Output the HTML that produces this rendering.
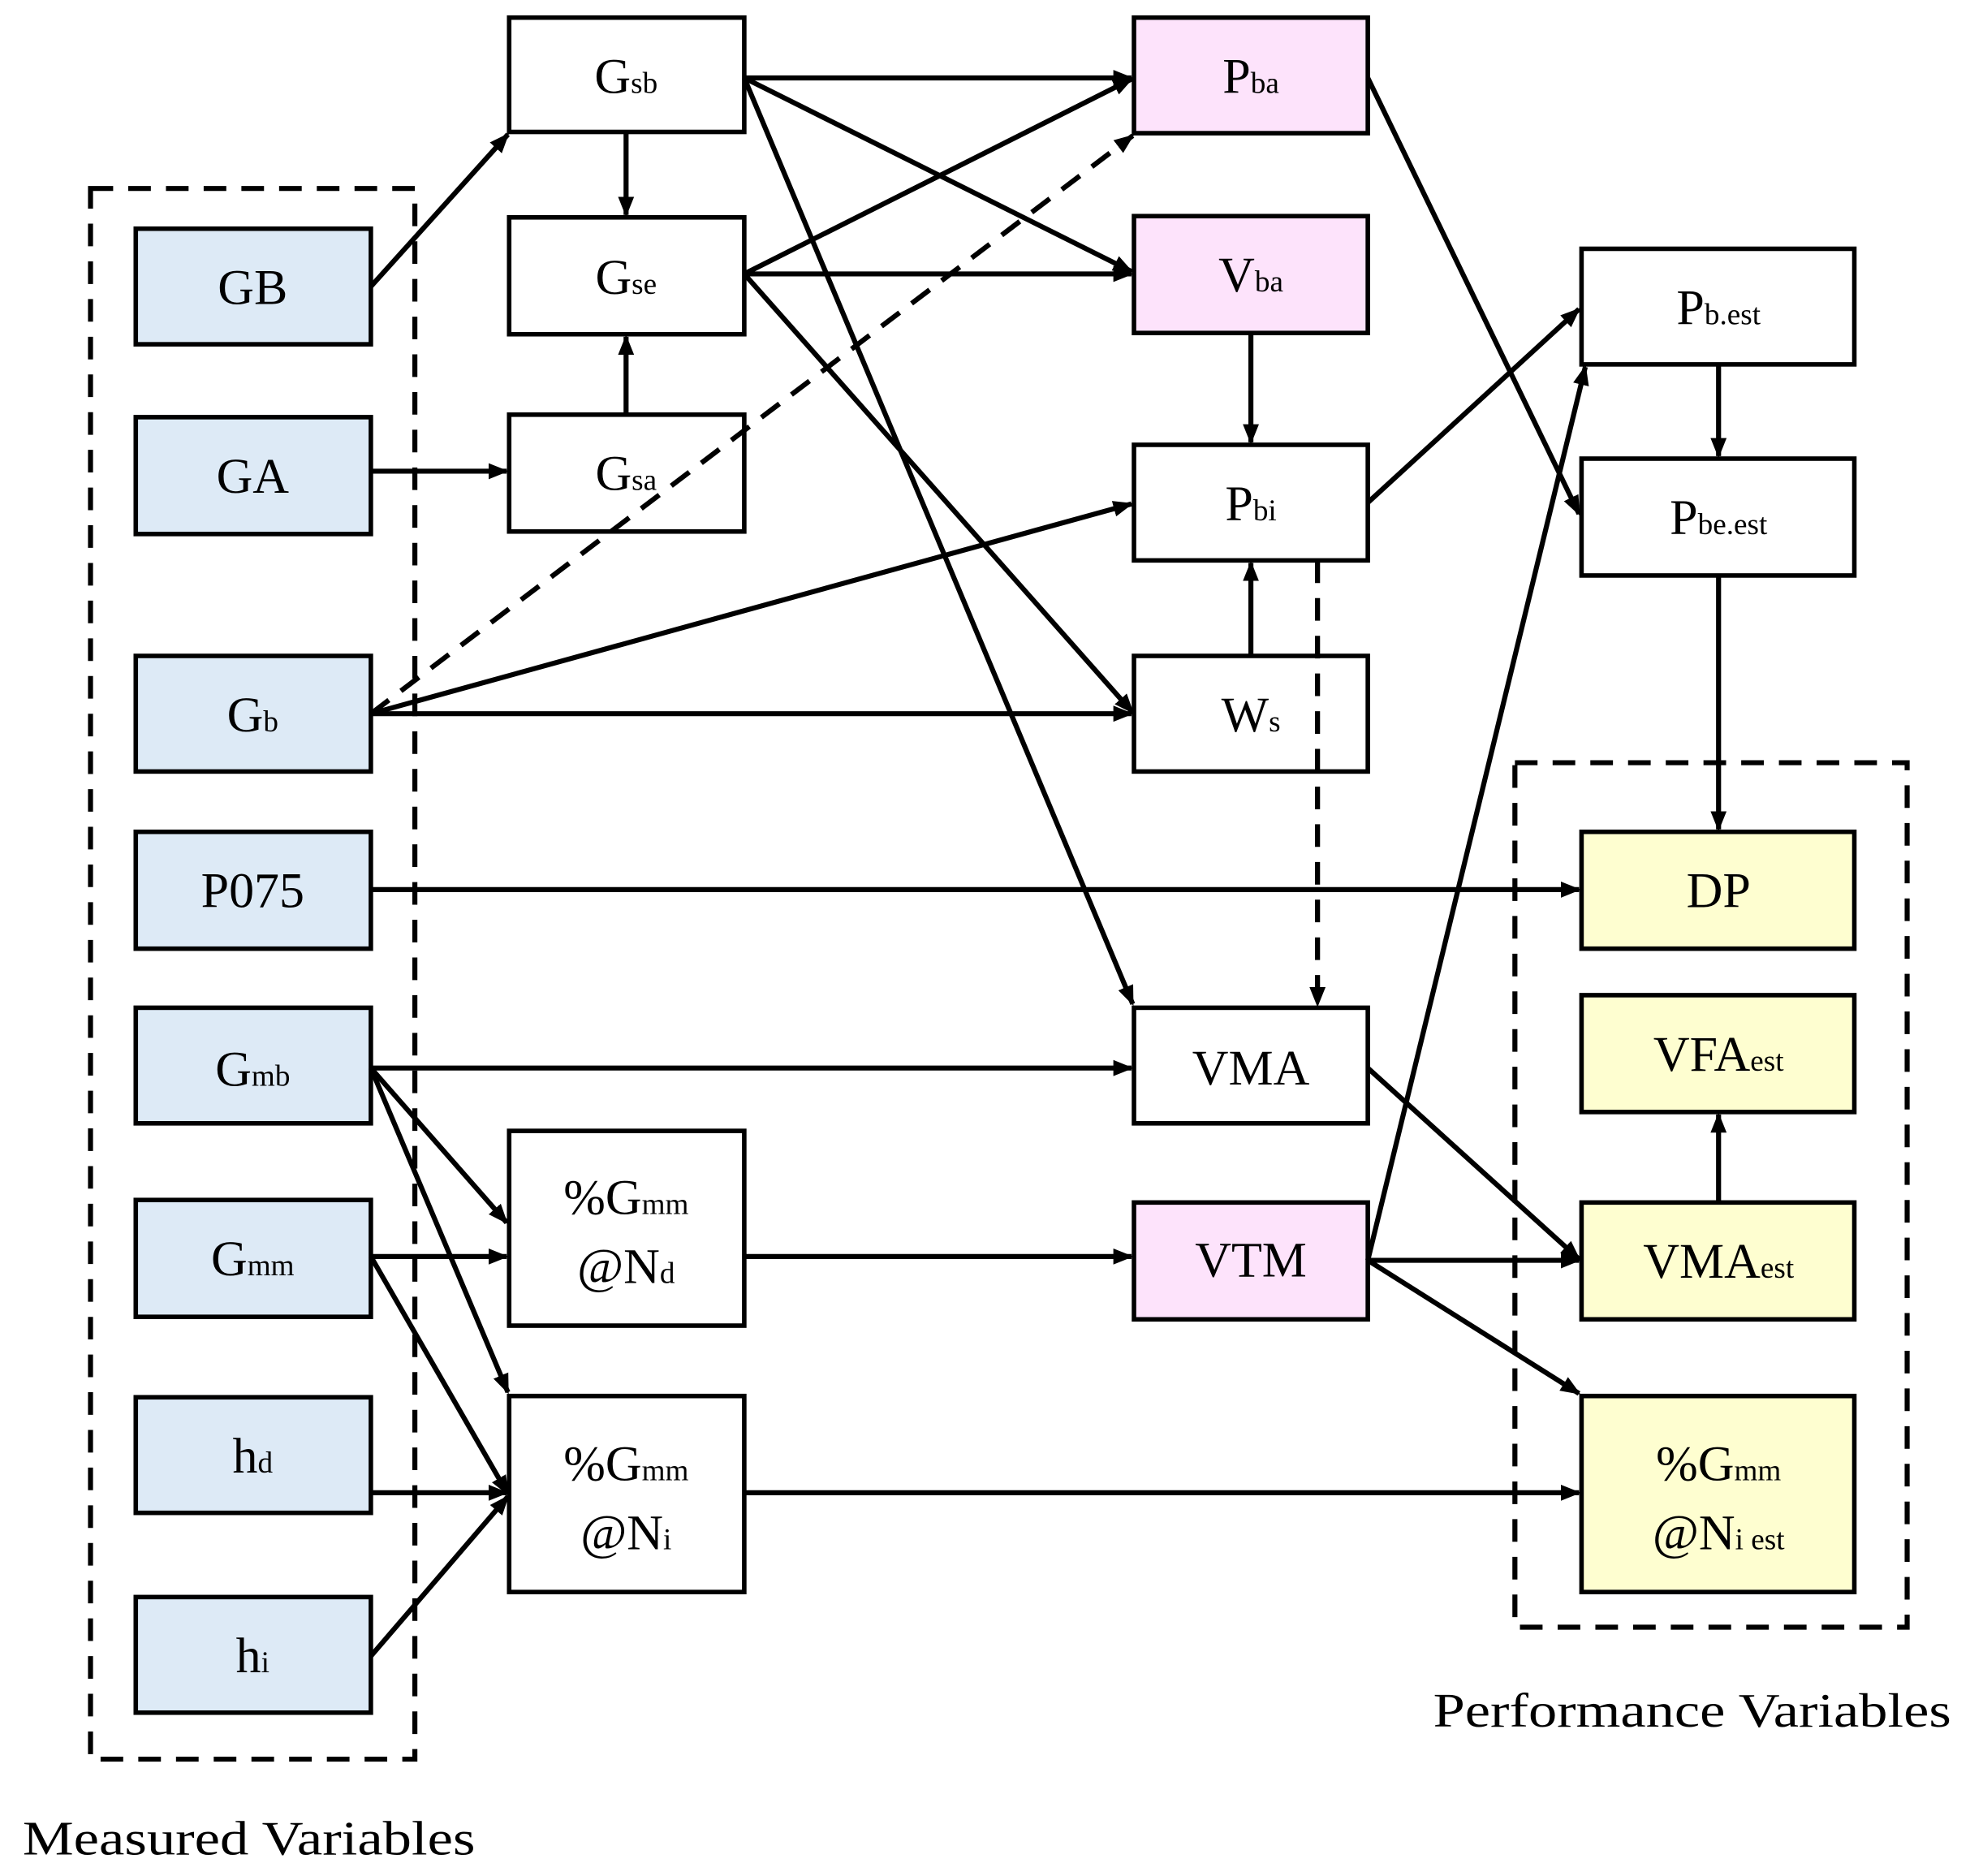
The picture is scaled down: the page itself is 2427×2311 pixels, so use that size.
<!DOCTYPE html>
<html><head><meta charset="utf-8"><style>
html,body{margin:0;padding:0;background:#fff;}
svg{display:block;}
text{font-family:"Liberation Serif",serif;fill:#000;}
</style></head><body>
<svg width="2427" height="2311" viewBox="0 0 1567 1493" preserveAspectRatio="none" xmlns="http://www.w3.org/2000/svg">
<defs>
<marker id="a" viewBox="0 0 10 10" refX="9" refY="5" markerWidth="4" markerHeight="4" orient="auto" markerUnits="strokeWidth">
<path d="M0,1 L10,5 L0,9 z" fill="#000"/>
</marker>
</defs>
<g fill="none" stroke="#000" stroke-width="4" stroke-dasharray="18,12">
<rect x="72" y="150" width="258" height="1250"/>
<rect x="1205" y="607" width="312" height="688"/>
</g>
<g stroke="#000" stroke-width="3.6" stroke-linejoin="miter">
<rect x="108" y="182" width="187" height="92" fill="#ddeaf6"/>
<rect x="108" y="332" width="187" height="93" fill="#ddeaf6"/>
<rect x="108" y="522" width="187" height="92" fill="#ddeaf6"/>
<rect x="108" y="662" width="187" height="93" fill="#ddeaf6"/>
<rect x="108" y="802" width="187" height="92" fill="#ddeaf6"/>
<rect x="108" y="955" width="187" height="93" fill="#ddeaf6"/>
<rect x="108" y="1112" width="187" height="92" fill="#ddeaf6"/>
<rect x="108" y="1271" width="187" height="92" fill="#ddeaf6"/>
<rect x="405" y="14" width="187" height="91" fill="#fff"/>
<rect x="405" y="173" width="187" height="93" fill="#fff"/>
<rect x="405" y="330" width="187" height="93" fill="#fff"/>
<rect x="405" y="900" width="187" height="155" fill="#fff"/>
<rect x="405" y="1111" width="187" height="156" fill="#fff"/>
<rect x="902" y="14" width="186" height="92" fill="#fde3fb"/>
<rect x="902" y="172" width="186" height="93" fill="#fde3fb"/>
<rect x="902" y="354" width="186" height="92" fill="#fff"/>
<rect x="902" y="522" width="186" height="92" fill="#fff"/>
<rect x="902" y="802" width="186" height="92" fill="#fff"/>
<rect x="902" y="957" width="186" height="93" fill="#fde3fb"/>
<rect x="1258" y="198" width="217" height="92" fill="#fff"/>
<rect x="1258" y="365" width="217" height="93" fill="#fff"/>
<rect x="1258" y="662" width="217" height="93" fill="#fefed0"/>
<rect x="1258" y="792" width="217" height="93" fill="#fefed0"/>
<rect x="1258" y="957" width="217" height="93" fill="#fefed0"/>
<rect x="1258" y="1111" width="217" height="156" fill="#fefed0"/>
</g>
<g stroke="#000" stroke-width="4" fill="none" marker-end="url(#a)">
<line x1="295" y1="228" x2="404" y2="107"/>
<line x1="295" y1="375" x2="403" y2="375"/>
<line x1="498" y1="330" x2="498" y2="268"/>
<line x1="498" y1="105" x2="498" y2="171"/>
<line x1="592" y1="62" x2="900" y2="62"/>
<line x1="592" y1="62" x2="900" y2="216"/>
<line x1="592" y1="62" x2="901" y2="799"/>
<line x1="592" y1="218" x2="900" y2="63"/>
<line x1="592" y1="218" x2="900" y2="218"/>
<line x1="592" y1="218" x2="901" y2="567"/>
<line x1="295" y1="568" x2="901" y2="108" stroke-dasharray="18,12"/>
<line x1="295" y1="568" x2="900" y2="401"/>
<line x1="295" y1="568" x2="900" y2="568"/>
<line x1="995" y1="265" x2="995" y2="352"/>
<line x1="995" y1="522" x2="995" y2="448"/>
<line x1="1048" y1="446" x2="1048" y2="800" stroke-dasharray="18,12"/>
<line x1="1088" y1="62" x2="1256" y2="409"/>
<line x1="1088" y1="400" x2="1256" y2="246"/>
<line x1="1088" y1="1003" x2="1261" y2="292"/>
<line x1="1367" y1="290" x2="1367" y2="363"/>
<line x1="1367" y1="458" x2="1367" y2="660"/>
<line x1="295" y1="708" x2="1256" y2="708"/>
<line x1="295" y1="850" x2="900" y2="850"/>
<line x1="295" y1="850" x2="403" y2="973"/>
<line x1="295" y1="850" x2="404" y2="1108"/>
<line x1="295" y1="1000" x2="403" y2="1000"/>
<line x1="295" y1="1000" x2="404" y2="1189"/>
<line x1="295" y1="1188" x2="403" y2="1188"/>
<line x1="295" y1="1318" x2="404" y2="1191"/>
<line x1="592" y1="1000" x2="900" y2="1000"/>
<line x1="592" y1="1188" x2="1256" y2="1188"/>
<line x1="1088" y1="850" x2="1256" y2="1002"/>
<line x1="1088" y1="1003" x2="1256" y2="1003"/>
<line x1="1088" y1="1003" x2="1256" y2="1109"/>
<line x1="1367" y1="957" x2="1367" y2="887"/>
</g>
<g font-size="40" text-anchor="middle">
<text x="201" y="242">GB</text>
<text x="201" y="392">GA</text>
<text x="201" y="582">G<tspan font-size="24">b</tspan></text>
<text x="201" y="722">P075</text>
<text x="201" y="864">G<tspan font-size="24">mb</tspan></text>
<text x="201" y="1015">G<tspan font-size="24">mm</tspan></text>
<text x="201" y="1172">h<tspan font-size="24">d</tspan></text>
<text x="201" y="1331">h<tspan font-size="24">i</tspan></text>
<text x="498" y="74">G<tspan font-size="24">sb</tspan></text>
<text x="498" y="234">G<tspan font-size="24">se</tspan></text>
<text x="498" y="390">G<tspan font-size="24">sa</tspan></text>
<text x="498" y="966">%G<tspan font-size="24">mm</tspan></text>
<text x="498" y="1021">@N<tspan font-size="24">d</tspan></text>
<text x="498" y="1178">%G<tspan font-size="24">mm</tspan></text>
<text x="498" y="1233">@N<tspan font-size="24">i</tspan></text>
<text x="995" y="74">P<tspan font-size="24">ba</tspan></text>
<text x="995" y="232">V<tspan font-size="24">ba</tspan></text>
<text x="995" y="414">P<tspan font-size="24">bi</tspan></text>
<text x="995" y="582">W<tspan font-size="24">s</tspan></text>
<text x="995" y="863">VMA</text>
<text x="995" y="1016">VTM</text>
<text x="1367" y="258">P<tspan font-size="24">b.est</tspan></text>
<text x="1367" y="425">P<tspan font-size="24">be.est</tspan></text>
<text x="1367" y="722">DP</text>
<text x="1367" y="852">VFA<tspan font-size="24">est</tspan></text>
<text x="1367" y="1017">VMA<tspan font-size="24">est</tspan></text>
<text x="1367" y="1178">%G<tspan font-size="24">mm</tspan></text>
<text x="1367" y="1233">@N<tspan font-size="24">i est</tspan></text>
</g>
<text x="18" y="1476" font-size="38" textLength="360" lengthAdjust="spacingAndGlyphs">Measured Variables</text>
<text x="1140" y="1374" font-size="38" textLength="412" lengthAdjust="spacingAndGlyphs">Performance Variables</text>
</svg>
</body></html>
